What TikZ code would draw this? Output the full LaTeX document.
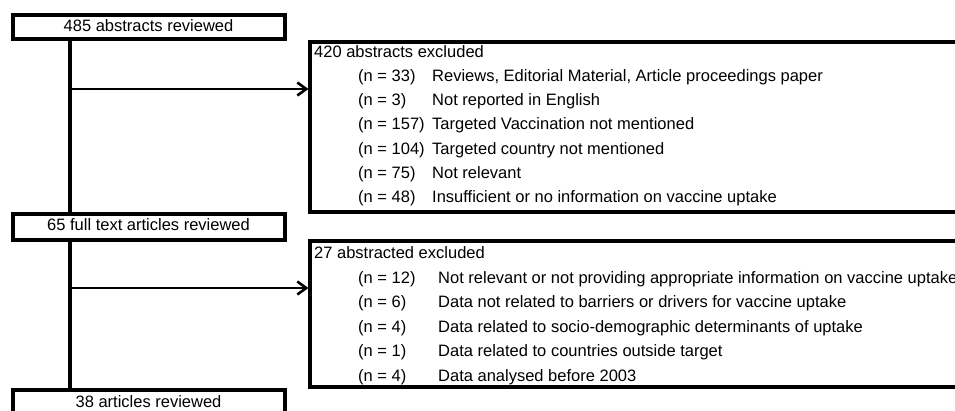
\documentclass[tikz,border=0pt]{standalone}
\usepackage{fontspec}
\setmainfont{Liberation Sans}
\usetikzlibrary{arrows.meta}
\begin{document}
\begin{tikzpicture}[x=1pt,y=-1pt,
  txt/.style={font=\fontsize{16.5}{19}\selectfont},
  stagebox/.style={txt,draw,line width=4pt,outer sep=0pt,inner sep=0pt,minimum width=272pt,text height=12pt,anchor=north west},
  exclbox/.style={draw,line width=4pt,outer sep=0pt,inner sep=0pt,anchor=north west,minimum width=700pt},
  flow/.style={line width=3.5pt},
  side/.style={line width=2.2pt,shorten >=1pt,-{Straight Barb[length=9pt,width=13pt,line width=2.6pt]}},
  line/.style={txt,anchor=base west,inner sep=0pt}
]
\useasboundingbox (0,0) rectangle (955,410);
\clip (0,0) rectangle (955,410);
\fill[white] (0,0) rectangle (955,410);
% stage boxes
\node[stagebox,minimum height=24pt,text depth=4pt] (a) at (12.5,15) {485 abstracts reviewed};
\node[stagebox,minimum height=26.5pt,text depth=5.5pt] (b) at (12.5,213.5) {65 full text articles reviewed};
\node[stagebox,minimum height=40pt,text depth=18pt] (c) at (12.5,390) {38 articles reviewed};
% exclusion boxes
\node[exclbox,minimum height=169.5pt] (e1) at (309.5,42) {};
\node[exclbox,minimum height=146pt] (e2) at (309.5,241) {};
% flow line
\coordinate (t1) at (70,89);
\coordinate (t2) at (70,288);
\draw[flow] (a.south -| t1) -- (b.north -| t1);
\draw[flow] (b.south -| t2) -- (c.north -| t2);
\draw[side] (t1) -- (t1 -| e1.west);
\draw[side] (t2) -- (t2 -| e2.west);
% box 1 text
\node[line] (h1) at (314,57) {420 abstracts excluded};
\node[line] (n11) at (358,81.5) {(n = 33)};   \node[line] (i11) at (432,81.5) {Reviews, Editorial Material, Article proceedings paper};
\node[line] (n12) at (358,105.5) {(n = 3)};   \node[line] (i12) at (432,105.5) {Not reported in English};
\node[line] (n13) at (358,129.5) {(n = 157)}; \node[line] (i13) at (432,129.5) {Targeted Vaccination not mentioned};
\node[line] (n14) at (358,154) {(n = 104)};   \node[line] (i14) at (432,154) {Targeted country not mentioned};
\node[line] (n15) at (358,178) {(n = 75)};    \node[line] (i15) at (432,178) {Not relevant};
\node[line] (n16) at (358,202.5) {(n = 48)};  \node[line] (i16) at (432,202.5) {Insufficient or no information on vaccine uptake};
% box 2 text
\node[line] (h2) at (314,258) {27 abstracted excluded};
\node[line] (n21) at (358,283) {(n = 12)};  \node[line] (i21) at (438,283) {Not relevant or not providing appropriate information on vaccine uptake};
\node[line] (n22) at (358,307.5) {(n = 6)}; \node[line] (i22) at (438,307.5) {Data not related to barriers or drivers for vaccine uptake};
\node[line] (n23) at (358,332) {(n = 4)};   \node[line] (i23) at (438,332) {Data related to socio-demographic determinants of uptake};
\node[line] (n24) at (358,356.5) {(n = 1)}; \node[line] (i24) at (438,356.5) {Data related to countries outside target};
\node[line] (n25) at (358,381) {(n = 4)};   \node[line] (i25) at (438,381) {Data analysed before 2003};
\end{tikzpicture}
\end{document}
